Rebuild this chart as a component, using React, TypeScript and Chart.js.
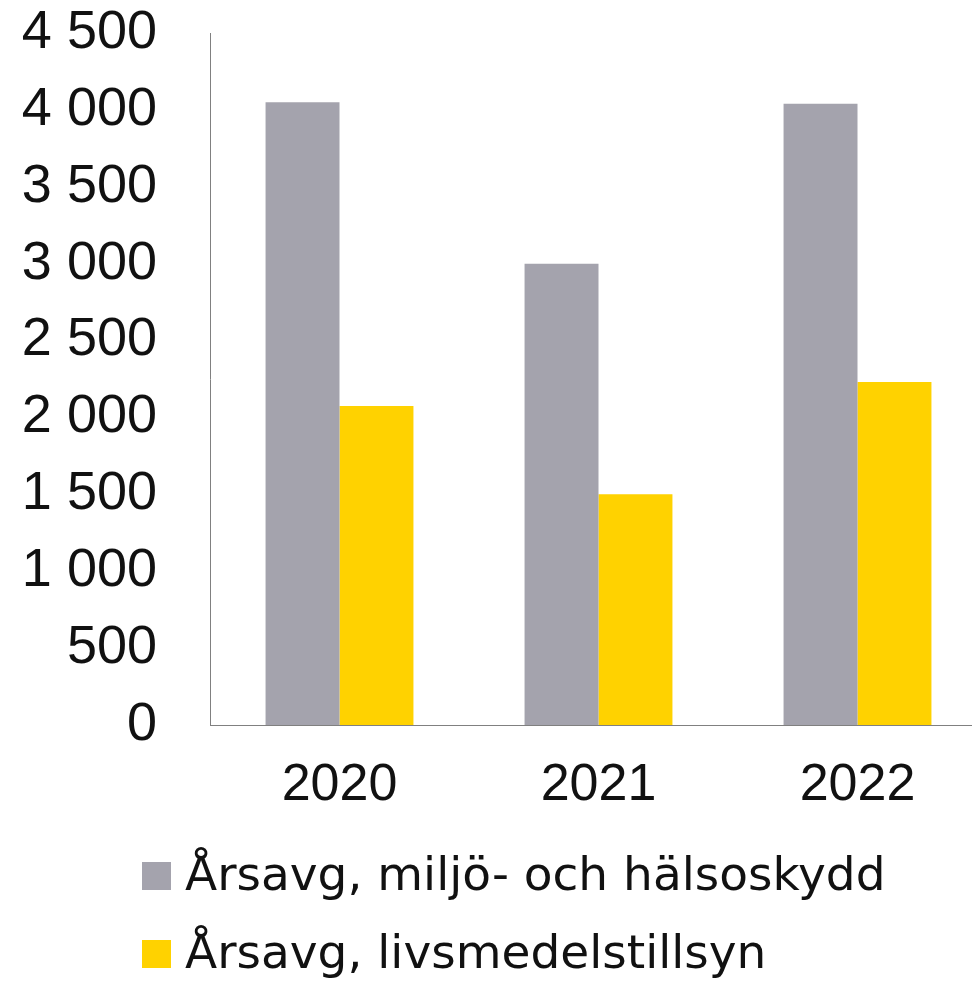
import React, { useEffect, useRef } from "react";
import { Chart, registerables } from "chart.js";

Chart.register(...registerables);

const categories = ["2020", "2021", "2022"];
const miljoValues = [4050, 3000, 4040];
const livsmedelValues = [2075, 1500, 2230];
const seriesLabels = ["Årsavg, miljö- och hälsoskydd", "Årsavg, livsmedelstillsyn"];
const yTickLabels = ["0", "500", "1 000", "1 500", "2 000", "2 500", "3 000", "3 500", "4 000", "4 500"];

const GRAY = "#a4a3ad";
const YELLOW = "#ffd200";

const legendPlugin = {
  id: "customLegend",
  afterDraw(chart: any) {
    const ctx = chart.ctx;
    ctx.save();
    const rows = [890, 968];
    chart.data.datasets.forEach((ds: any, i: number) => {
      const base = rows[i];
      ctx.fillStyle = ds.backgroundColor;
      ctx.fillRect(142, base - 28, 29, 28);
      ctx.fillStyle = "#111111";
      ctx.font = "47px 'DejaVu Sans'";
      ctx.textBaseline = "alphabetic";
      ctx.textAlign = "left";
      ctx.fillText(ds.label, 185, base);
    });
    ctx.restore();
  },
};

export default function App() {
  const ref = useRef<HTMLCanvasElement | null>(null);
  useEffect(() => {
    if (!ref.current) return;
    const chart = new Chart(ref.current, {
      type: "bar",
      data: {
        labels: categories,
        datasets: [
          {
            label: seriesLabels[0],
            data: miljoValues,
            backgroundColor: GRAY,
            barPercentage: 1,
            categoryPercentage: 0.571,
          },
          {
            label: seriesLabels[1],
            data: livsmedelValues,
            backgroundColor: YELLOW,
            barPercentage: 1,
            categoryPercentage: 0.571,
          },
        ],
      },
      options: {
        responsive: false,
        animation: false,
        layout: { padding: { top: 33, right: 13, bottom: 165, left: 0 } },
        plugins: {
          legend: { display: false },
          tooltip: { enabled: false },
        },
        scales: {
          x: {
            grid: { display: false, drawTicks: false },
            border: { display: true, color: "#808080", width: 1 },
            ticks: {
              color: "#111111",
              padding: 29,
              font: { family: "'Liberation Sans', Arial, sans-serif", size: 52 },
            },
            afterFit: (scale: any) => {
              scale.height = 91;
              scale.paddingLeft = 0;
              scale.paddingRight = 0;
            },
          },
          y: {
            min: 0,
            max: 4500,
            grid: { display: false, drawTicks: false },
            border: { display: true, color: "#808080", width: 1 },
            ticks: {
              stepSize: 500,
              color: "#111111",
              padding: 53,
              font: { family: "'Liberation Sans', Arial, sans-serif", size: 54 },
              callback: (_v: any, i: number) => yTickLabels[i],
            },
            afterFit: (scale: any) => {
              scale.width = 210;
              scale.paddingTop = 0;
              scale.paddingBottom = 0;
            },
          },
        },
      },
      plugins: [legendPlugin],
    });
    return () => chart.destroy();
  }, []);
  return (
    <div style={{ position: "fixed", left: 0, top: 0, width: 972, height: 981, overflow: "hidden", background: "#fff" }}>
      <canvas ref={ref} width={1000} height={981} style={{ width: 1000, height: 981, display: "block" }} />
    </div>
  );
}
